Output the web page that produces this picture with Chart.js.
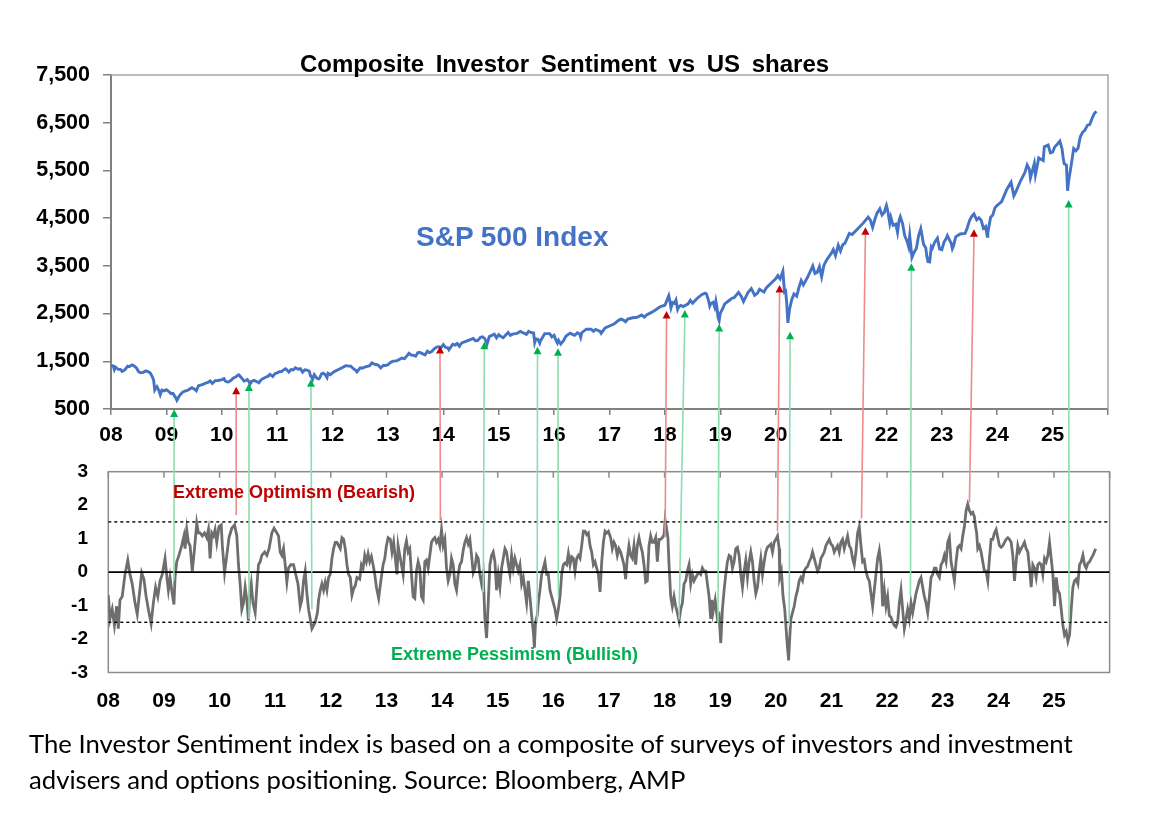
<!DOCTYPE html>
<html><head><meta charset="utf-8">
<script src="https://cdn.jsdelivr.net/npm/chart.js@4.4.1/dist/chart.umd.min.js"></script>
<style>
html,body{margin:0;padding:0;background:#fff;}
#wrap{position:relative;width:1156px;height:820px;overflow:hidden;font-family:'Liberation Sans',Arial,sans-serif;}
canvas{position:absolute;left:0;}
.t{position:absolute;white-space:nowrap;font-weight:bold;line-height:1;}
.cap{position:absolute;white-space:nowrap;font-family:Lato,'Open Sans',sans-serif;line-height:1;color:#000;left:29px;}
</style></head><body>
<div id="wrap">
<canvas id="topC" width="1156" height="460" style="top:0;width:1156px;height:460px"></canvas>
<canvas id="botC" width="1156" height="290" style="top:440px;width:1156px;height:290px"></canvas>
<canvas id="ovl" width="1156" height="820" style="top:0;width:1156px;height:820px"></canvas>
<div class="t" style="left:300px;top:52px;font-size:24px;word-spacing:5px;color:#000">Composite Investor Sentiment vs US shares</div>
<div class="t" style="left:416px;top:223px;font-size:28px;color:#4472C4">S&amp;P 500 Index</div>
<div class="t" style="left:173px;top:483px;font-size:18px;color:#C00000">Extreme Optimism (Bearish)</div>
<div class="t" style="left:391px;top:645px;font-size:18px;color:#00B050">Extreme Pessimism (Bullish)</div>
<div class="cap" id="cap1">The Investor Sentiment index is based on a composite of surveys of investors and investment</div>
<div class="cap" id="cap2">advisers and options positioning. Source: Bloomberg, AMP</div>
</div>
<script>
// ---------- axis ticks ----------
const yearTicks = [2008,2009,2010,2011,2012,2013,2014,2015,2016,2017,2018,2019,2020,2021,2022,2023,2024,2025,2026];
const yearLabels = ['08','09','10','11','12','13','14','15','16','17','18','19','20','21','22','23','24','25',''];
const spTicks = [500,1500,2500,3500,4500,5500,6500,7500];
const sentTicks = [-3,-2,-1,0,1,2,3];
const sentBands = [1.5,-1.5];

// ---------- S&P 500 (decimal year, index level) ----------
const spDates = [
2008.00,2008.04,2008.06,2008.08,2008.13,2008.17,2008.20,2008.25,2008.30,2008.33,2008.38,2008.42,2008.46,2008.50,2008.54,2008.58,2008.63,2008.67,2008.71,2008.75,2008.77,2008.79,2008.81,2008.83,2008.87,2008.89,2008.92,2008.96,
2009.00,2009.04,2009.06,2009.08,2009.12,2009.15,2009.17,2009.19,2009.23,2009.25,2009.29,2009.33,2009.38,2009.42,2009.46,2009.50,2009.54,2009.58,2009.63,2009.67,2009.71,2009.75,2009.79,2009.83,2009.88,2009.92,2009.96,
2010.00,2010.04,2010.06,2010.08,2010.12,2010.17,2010.21,2010.25,2010.29,2010.31,2010.33,2010.37,2010.40,2010.42,2010.46,2010.49,2010.51,2010.54,2010.58,2010.62,2010.65,2010.67,2010.71,2010.75,2010.79,2010.83,2010.87,2010.92,2010.96,
2011.00,2011.04,2011.08,2011.13,2011.15,2011.17,2011.21,2011.25,2011.29,2011.33,2011.38,2011.42,2011.46,2011.50,2011.54,2011.58,2011.60,2011.62,2011.64,2011.67,2011.71,2011.73,2011.75,2011.77,2011.80,2011.83,2011.87,2011.90,2011.92,2011.96,
2012.00,2012.04,2012.08,2012.17,2012.23,2012.25,2012.29,2012.33,2012.38,2012.42,2012.44,2012.50,2012.54,2012.58,2012.67,2012.71,2012.75,2012.79,2012.83,2012.87,2012.92,2012.96,
2013.00,2013.04,2013.08,2013.17,2013.25,2013.30,2013.33,2013.38,2013.42,2013.46,2013.50,2013.54,2013.58,2013.63,2013.67,2013.71,2013.75,2013.79,2013.83,2013.88,2013.92,2013.96,
2014.00,2014.04,2014.08,2014.10,2014.17,2014.21,2014.25,2014.29,2014.33,2014.42,2014.50,2014.54,2014.58,2014.62,2014.67,2014.71,2014.75,2014.79,2014.83,2014.92,2014.96,
2015.00,2015.04,2015.08,2015.17,2015.21,2015.25,2015.33,2015.39,2015.42,2015.50,2015.54,2015.58,2015.63,2015.65,2015.67,2015.71,2015.74,2015.75,2015.83,2015.92,2015.96,
2016.00,2016.04,2016.06,2016.08,2016.12,2016.17,2016.21,2016.25,2016.29,2016.33,2016.37,2016.42,2016.46,2016.48,2016.50,2016.58,2016.67,2016.71,2016.75,2016.83,2016.85,2016.92,
2017.00,2017.08,2017.17,2017.21,2017.25,2017.29,2017.33,2017.42,2017.50,2017.58,2017.63,2017.67,2017.75,2017.83,2017.92,
2018.00,2018.04,2018.07,2018.09,2018.11,2018.14,2018.17,2018.20,2018.23,2018.25,2018.29,2018.33,2018.42,2018.46,2018.50,2018.58,2018.67,2018.73,2018.75,2018.79,2018.81,2018.83,2018.87,2018.90,2018.92,2018.94,2018.96,2018.98,
2019.00,2019.04,2019.08,2019.17,2019.21,2019.25,2019.33,2019.38,2019.42,2019.50,2019.56,2019.58,2019.62,2019.67,2019.71,2019.75,2019.79,2019.83,2019.92,
2020.00,2020.04,2020.08,2020.13,2020.16,2020.18,2020.20,2020.22,2020.25,2020.29,2020.33,2020.38,2020.42,2020.46,2020.50,2020.58,2020.67,2020.71,2020.75,2020.79,2020.83,2020.87,2020.92,
2021.00,2021.04,2021.08,2021.13,2021.17,2021.21,2021.25,2021.33,2021.38,2021.42,2021.50,2021.58,2021.67,2021.71,2021.75,2021.79,2021.83,2021.88,2021.92,2021.96,
2022.00,2022.02,2022.06,2022.08,2022.12,2022.17,2022.20,2022.23,2022.25,2022.29,2022.33,2022.37,2022.40,2022.42,2022.46,2022.50,2022.54,2022.58,2022.62,2022.67,2022.71,2022.73,2022.75,2022.78,2022.81,2022.83,2022.87,2022.92,2022.96,
2023.00,2023.04,2023.08,2023.10,2023.17,2023.19,2023.21,2023.25,2023.33,2023.42,2023.46,2023.50,2023.54,2023.58,2023.63,2023.67,2023.71,2023.75,2023.79,2023.82,2023.83,2023.88,2023.92,2023.96,
2024.00,2024.08,2024.17,2024.25,2024.30,2024.33,2024.42,2024.50,2024.54,2024.58,2024.60,2024.67,2024.69,2024.75,2024.83,2024.85,2024.92,2024.96,
2025.00,2025.04,2025.08,2025.13,2025.17,2025.19,2025.21,2025.25,2025.27,2025.29,2025.33,2025.38,2025.42,2025.46,2025.50,2025.54,2025.58,2025.63,2025.67,2025.71,2025.75,2025.79
];
const spValues = [
1411,1401,1325,1378,1331,1331,1288,1322,1397,1386,1425,1400,1360,1280,1260,1267,1298,1283,1255,1166,1099,899,940,968,873,800,896,880,
903,870,850,826,827,770,735,683,768,798,850,873,888,919,946,919,880,987,1004,1021,1044,1057,1087,1036,1093,1096,1102,
1115,1136,1091,1074,1066,1104,1150,1169,1211,1217,1187,1135,1087,1089,1117,1076,1022,1078,1102,1079,1065,1049,1110,1141,1165,1183,1225,1181,1240,
1258,1283,1286,1329,1343,1327,1273,1326,1320,1364,1333,1345,1271,1321,1316,1292,1199,1178,1124,1219,1154,1136,1131,1155,1238,1253,1216,1159,1247,1219,
1258,1289,1312,1366,1404,1408,1398,1398,1340,1310,1278,1362,1356,1379,1407,1466,1441,1433,1412,1359,1416,1413,
1426,1472,1498,1515,1569,1555,1598,1667,1631,1626,1606,1680,1686,1655,1633,1710,1682,1703,1757,1798,1806,1787,
1848,1790,1783,1741,1859,1841,1872,1815,1884,1924,1960,1978,1931,1932,2003,2011,1972,1862,2018,2068,1990,
2059,2019,1995,2105,2044,2068,2086,2126,2107,2063,2126,2104,2092,1893,1972,1958,1882,1920,2079,2080,2012,
2044,1922,1880,1940,1864,1932,2022,2060,2091,2065,2046,2097,2071,2000,2099,2174,2171,2127,2168,2126,2085,2199,
2239,2279,2364,2383,2363,2328,2384,2412,2423,2470,2426,2472,2519,2575,2648,
2674,2786,2873,2762,2620,2732,2714,2786,2588,2641,2670,2648,2705,2780,2718,2816,2902,2930,2914,2767,2658,2712,2736,2633,2760,2633,2416,2351,
2507,2596,2704,2784,2822,2834,2946,2860,2752,2942,3025,2980,2883,2926,3007,2977,2952,3038,3141,
3231,3295,3226,3386,2954,2972,2711,2305,2585,2790,2912,2864,3044,3193,3100,3271,3500,3340,3363,3484,3270,3509,3622,
3756,3841,3714,3934,3811,3943,3973,4181,4155,4204,4298,4395,4523,4459,4308,4471,4605,4698,4567,4620,
4766,4677,4398,4516,4349,4374,4204,4463,4530,4392,4132,4023,3901,4132,3675,3785,3863,4130,4280,3955,3873,3694,3586,3583,3901,3872,3993,4080,3852,
3840,3999,4077,4136,3970,3861,3917,4109,4169,4180,4299,4450,4536,4589,4464,4508,4457,4288,4327,4117,4194,4514,4568,4719,
4770,4846,5096,5254,4967,5036,5278,5460,5615,5522,5344,5648,5408,5762,5705,5995,6032,5867,
5882,5997,6041,6115,5955,5770,5639,5612,5074,5282,5569,5958,5912,5967,6205,6297,6339,6449,6460,6584,6688,6740
];

// ---------- Composite sentiment (decimal year, z-score) ----------
const sentDates = [
2008.00,2008.03,2008.07,2008.11,2008.15,2008.18,2008.21,2008.25,2008.30,2008.35,2008.39,2008.43,2008.48,2008.52,2008.56,2008.60,2008.64,2008.68,2008.72,2008.77,2008.81,2008.85,2008.89,2008.93,2008.97,
2009.02,2009.06,2009.08,2009.11,2009.14,2009.18,2009.20,2009.23,2009.27,2009.32,2009.36,2009.38,2009.41,2009.44,2009.47,2009.51,2009.55,2009.59,2009.62,2009.65,2009.69,2009.73,2009.77,2009.80,2009.83,2009.86,2009.89,2009.92,2009.95,2009.99,
2010.03,2010.05,2010.09,2010.13,2010.17,2010.22,2010.27,2010.31,2010.34,2010.37,2010.40,2010.43,2010.46,2010.49,2010.52,2010.54,2010.57,2010.60,2010.64,2010.67,2010.70,2010.73,2010.76,2010.81,2010.85,2010.89,2010.94,2010.98,
2011.03,2011.06,2011.09,2011.12,2011.15,2011.18,2011.21,2011.24,2011.28,2011.33,2011.37,2011.41,2011.45,2011.48,2011.51,2011.54,2011.57,2011.60,2011.63,2011.66,2011.69,2011.72,2011.76,2011.78,2011.81,2011.84,2011.87,2011.90,2011.93,2011.96,2011.99,
2012.02,2012.05,2012.08,2012.11,2012.14,2012.17,2012.20,2012.23,2012.26,2012.29,2012.32,2012.35,2012.38,2012.41,2012.44,2012.47,2012.52,2012.55,2012.58,2012.61,2012.64,2012.67,2012.70,2012.73,2012.76,2012.79,2012.82,2012.86,2012.90,2012.94,2012.97,
2013.00,2013.03,2013.07,2013.10,2013.13,2013.16,2013.19,2013.21,2013.24,2013.27,2013.30,2013.33,2013.36,2013.39,2013.42,2013.45,2013.48,2013.51,2013.54,2013.57,2013.60,2013.63,2013.66,2013.69,2013.72,2013.75,2013.78,2013.81,2013.84,2013.87,2013.90,2013.93,2013.96,2013.99,
2014.02,2014.05,2014.08,2014.11,2014.14,2014.17,2014.20,2014.23,2014.26,2014.29,2014.32,2014.35,2014.38,2014.41,2014.44,2014.47,2014.50,2014.53,2014.56,2014.59,2014.62,2014.65,2014.68,2014.71,2014.74,2014.77,2014.80,2014.83,2014.86,2014.89,2014.92,2014.95,2014.98,
2015.01,2015.04,2015.07,2015.10,2015.13,2015.16,2015.19,2015.22,2015.25,2015.28,2015.31,2015.34,2015.37,2015.40,2015.43,2015.46,2015.49,2015.52,2015.55,2015.58,2015.61,2015.64,2015.66,2015.68,2015.71,2015.73,2015.76,2015.79,2015.82,2015.85,2015.88,2015.91,2015.94,2015.97,
2016.00,2016.03,2016.06,2016.09,2016.12,2016.15,2016.18,2016.21,2016.24,2016.27,2016.30,2016.33,2016.36,2016.39,2016.42,2016.45,2016.48,2016.51,2016.54,2016.57,2016.60,2016.63,2016.66,2016.69,2016.72,2016.75,2016.78,2016.81,2016.84,2016.87,2016.90,2016.93,2016.96,2016.99,
2017.03,2017.06,2017.09,2017.12,2017.15,2017.18,2017.21,2017.24,2017.27,2017.30,2017.33,2017.36,2017.39,2017.42,2017.45,2017.48,2017.51,2017.54,2017.57,2017.60,2017.63,2017.66,2017.69,2017.72,2017.75,2017.78,2017.81,2017.84,2017.87,2017.90,2017.93,2017.96,2017.99,
2018.01,2018.03,2018.06,2018.08,2018.11,2018.14,2018.17,2018.20,2018.23,2018.26,2018.29,2018.32,2018.35,2018.38,2018.41,2018.44,2018.47,2018.50,2018.53,2018.56,2018.59,2018.62,2018.65,2018.68,2018.71,2018.74,2018.77,2018.80,2018.83,2018.85,2018.87,2018.91,2018.95,2018.98,
2019.01,2019.04,2019.07,2019.10,2019.13,2019.16,2019.19,2019.22,2019.25,2019.28,2019.31,2019.34,2019.37,2019.40,2019.43,2019.46,2019.49,2019.52,2019.55,2019.58,2019.61,2019.64,2019.67,2019.70,2019.73,2019.76,2019.79,2019.82,2019.85,2019.88,2019.91,2019.94,2019.97,
2020.00,2020.03,2020.06,2020.07,2020.10,2020.13,2020.16,2020.18,2020.21,2020.23,2020.25,2020.27,2020.30,2020.33,2020.36,2020.39,2020.42,2020.45,2020.48,2020.51,2020.54,2020.57,2020.60,2020.63,2020.66,2020.69,2020.72,2020.75,2020.78,2020.81,2020.84,2020.87,2020.90,2020.93,2020.96,2020.99,
2021.02,2021.05,2021.08,2021.11,2021.14,2021.17,2021.20,2021.23,2021.26,2021.29,2021.32,2021.35,2021.38,2021.41,2021.44,2021.47,2021.50,2021.53,2021.56,2021.59,2021.62,2021.65,2021.68,2021.71,2021.74,2021.77,2021.80,2021.83,2021.86,2021.89,2021.92,2021.95,2021.98,
2022.01,2022.04,2022.07,2022.10,2022.13,2022.16,2022.19,2022.22,2022.25,2022.28,2022.31,2022.34,2022.37,2022.40,2022.43,2022.46,2022.49,2022.52,2022.55,2022.58,2022.61,2022.64,2022.67,2022.70,2022.73,2022.76,2022.79,2022.82,2022.85,2022.88,2022.91,2022.94,2022.97,
2023.00,2023.03,2023.06,2023.09,2023.12,2023.15,2023.18,2023.21,2023.24,2023.27,2023.30,2023.33,2023.36,2023.39,2023.42,2023.45,2023.48,2023.51,2023.54,2023.57,2023.59,2023.61,2023.63,2023.66,2023.69,2023.72,2023.75,2023.78,2023.81,2023.84,2023.87,2023.90,2023.93,2023.96,2023.99,
2024.02,2024.05,2024.08,2024.11,2024.14,2024.17,2024.20,2024.23,2024.26,2024.29,2024.32,2024.35,2024.38,2024.41,2024.44,2024.47,2024.50,2024.53,2024.56,2024.59,2024.62,2024.65,2024.68,2024.71,2024.74,2024.77,2024.80,2024.83,2024.86,2024.89,2024.92,2024.95,2024.98,
2025.01,2025.04,2025.07,2025.10,2025.13,2025.16,2025.19,2025.22,2025.25,2025.28,2025.31,2025.34,2025.37,2025.40,2025.43,2025.46,2025.49,2025.52,2025.55,2025.58,2025.61,2025.64,2025.67,2025.70,2025.75
];
const sentValues = [
-0.69,-1.40,-1.11,-1.59,-1.02,-1.69,-0.83,-0.73,-0.07,0.36,-0.07,-0.35,-0.92,-1.26,-0.64,-0.02,-0.21,-0.73,-1.11,-1.54,-0.92,-0.45,-0.73,-0.26,-0.07,
0.41,-0.26,-0.54,-0.16,-0.54,-0.97,-0.16,0.31,0.50,0.79,1.08,0.70,1.27,0.89,0.79,0.03,0.70,1.46,1.17,1.17,1.08,1.17,1.03,1.27,0.41,1.17,1.08,1.27,0.89,1.36,
1.41,0.79,-0.02,0.50,1.03,1.31,1.41,1.08,0.22,-0.35,-1.11,-0.92,-0.45,-0.83,-1.45,-0.73,-0.35,-0.92,-1.21,-0.45,0.22,0.31,0.50,0.60,0.50,0.70,1.17,1.31,
1.17,1.08,0.60,0.50,0.70,0.22,-0.30,0.12,0.22,0.22,-0.07,-0.35,-1.02,-0.83,-0.26,0.03,-0.64,-1.11,-1.40,-1.69,-1.59,-1.50,-1.21,-0.83,-0.54,-0.35,-0.54,-0.30,-0.54,-0.16,-0.07,
0.41,0.70,0.89,0.89,0.79,0.70,1.03,0.98,0.70,0.22,-0.07,-0.16,-0.69,-0.50,-0.40,-0.16,-0.21,0.22,0.12,0.50,0.31,0.55,0.31,0.46,0.22,-0.07,-0.45,-0.78,-0.26,0.22,0.41,
0.79,1.03,0.98,0.60,0.89,0.41,-0.07,0.79,0.50,0.22,-0.07,0.70,0.93,0.60,0.70,-0.07,-0.73,-0.78,0.03,0.31,0.12,-0.73,-0.83,0.31,0.36,0.12,0.50,0.89,0.98,1.03,0.89,0.98,0.79,1.27,
0.79,0.98,0.12,-0.26,-0.07,0.41,0.22,-0.35,-0.54,-0.07,0.22,0.31,0.65,0.89,1.03,0.84,0.98,0.50,-0.02,0.12,0.50,0.41,-0.07,-0.35,-0.07,-1.40,-1.97,-0.92,0.22,0.50,0.60,0.31,-0.54,
-0.07,-0.45,0.12,0.41,0.70,0.60,0.22,-0.07,0.50,0.12,0.41,0.22,0.03,0.22,-0.35,-0.16,-0.54,-0.92,-0.26,-0.73,-1.30,-1.78,-2.26,-1.50,-1.30,-0.92,-0.54,-0.07,0.12,0.31,-0.07,-0.07,-0.54,-0.73,
-0.92,-1.11,-1.40,-1.11,-0.73,-0.07,0.22,0.27,0.22,0.55,0.22,0.46,0.41,0.03,0.41,0.50,0.41,0.79,1.22,1.22,1.12,1.17,0.79,0.60,0.22,0.31,0.12,-0.07,-0.59,0.31,0.89,1.22,1.17,1.22,
1.03,0.70,0.89,0.79,0.50,0.70,0.60,0.41,0.22,-0.21,0.41,0.79,0.50,0.41,0.79,0.22,0.79,1.03,0.79,0.60,0.22,-0.30,-0.26,0.79,1.08,0.89,0.89,1.03,0.31,0.98,0.98,1.03,1.12,
1.55,1.36,1.03,0.22,-0.73,-1.02,-0.73,-1.02,-1.21,-1.45,-1.11,-0.92,-0.35,-0.26,0.03,0.22,-0.35,-0.07,-0.26,-0.16,-0.07,-0.02,-0.07,0.12,0.03,0.03,-0.35,-0.73,-1.40,-0.83,-1.21,-0.83,-1.40,-1.30,
-2.12,-1.11,-0.54,-0.07,0.31,0.50,0.46,0.12,0.31,0.70,0.74,0.50,-0.07,-0.45,0.03,0.36,-0.16,0.31,0.60,0.31,-0.26,-0.64,-0.45,0.03,0.41,-0.07,0.31,0.60,0.74,0.79,0.84,0.60,0.89,
0.98,1.08,0.70,-0.16,0.03,-0.73,-1.11,-1.59,-2.26,-2.64,-1.97,-1.40,-1.21,-1.02,-0.73,-0.54,-0.26,-0.16,-0.26,0.03,0.12,0.17,0.31,0.41,0.60,0.41,0.22,0.03,0.12,0.41,0.50,0.60,0.79,0.89,0.98,0.84,
0.79,0.60,0.70,0.79,0.60,0.89,0.98,0.70,0.89,1.08,0.79,0.70,0.41,0.22,0.60,1.17,1.36,0.79,0.31,0.36,0.03,-0.16,-0.26,-0.64,-1.02,-0.54,-0.07,0.41,0.65,0.22,-1.02,-0.54,-1.02,
-0.73,-1.30,-1.35,-1.50,-1.59,-1.64,-1.50,-0.92,-0.54,-1.11,-1.69,-1.40,-1.11,-1.40,-0.92,-1.21,-0.92,-0.64,-0.45,-0.26,-0.16,-0.45,-0.73,-0.92,-1.21,-0.73,-0.16,-0.07,0.12,0.12,-0.07,-0.16,0.22,
0.31,0.50,0.31,0.89,1.03,0.31,0.03,-0.26,0.31,0.74,0.79,0.70,1.08,1.36,1.84,2.03,1.84,1.74,1.79,1.65,1.36,1.17,0.70,0.79,0.60,0.31,0.03,0.03,-0.26,0.41,0.98,0.98,1.17,1.27,1.03,
0.79,0.74,0.79,0.89,0.98,1.03,0.98,0.89,0.50,-0.26,0.31,0.79,0.60,0.70,0.79,0.89,0.70,0.60,0.12,-0.45,0.22,0.12,-0.16,0.22,0.27,0.22,-0.07,0.41,0.31,0.50,0.89,0.41,-0.07,
-1.02,-0.16,-0.54,-0.64,-1.11,-1.59,-1.88,-1.78,-2.07,-1.88,-1.11,-0.45,-0.26,-0.21,-0.35,0.22,0.31,0.50,0.22,0.12,0.27,0.31,0.41,0.50,0.70
];

// ---------- arrows: sentiment extreme (bottom) -> S&P level (top) ----------
const arrowType = ['g','r','g','g','r','g','g','g','r','g','g','r','g','r','g','r','g'];
const arrowTopDate = [2009.14,2010.26,2010.49,2011.61,2013.94,2014.74,2015.70,2016.07,2018.03,2018.36,2018.98,2020.07,2020.26,2021.62,2022.45,2023.58,2025.29];
const arrowTopValue = [490,967,1037,1122,1820,1911,1806,1772,2554,2575,2282,3099,2120,4308,3554,4266,4881];
const arrowBottomDate = [2009.18,2010.30,2010.53,2011.66,2013.97,2014.74,2015.71,2016.09,2018.01,2018.26,2018.96,2020.03,2020.24,2021.54,2022.42,2023.48,2025.27];
const arrowBottomValue = [-0.25,1.70,-1.40,-1.11,1.55,-0.60,-1.50,-0.73,1.03,-1.40,-1.50,1.22,-1.60,1.60,-0.69,2.08,-1.50];

// ---------- build ----------
Chart.defaults.font.family = "'Liberation Sans', Arial, sans-serif";
const toXY = (xs, ys) => xs.map((x, i) => ({x: x, y: ys[i]}));
const setTicks = arr => (s => { s.ticks = arr.map(v => ({value: v})); });

const topBox = {
  id: 'topBox',
  afterDraw(chart) {
    const {ctx, chartArea: a} = chart;
    ctx.save();
    ctx.strokeStyle = '#A6A6A6'; ctx.lineWidth = 1.5;
    ctx.beginPath(); ctx.moveTo(a.left, a.top); ctx.lineTo(a.right, a.top); ctx.lineTo(a.right, a.bottom); ctx.stroke();
    ctx.restore();
  }
};
const botBox = {
  id: 'botBox',
  beforeDatasetsDraw(chart) {
    const {ctx, chartArea: a, scales: {x}} = chart;
    ctx.save();
    ctx.strokeStyle = '#8C8C8C'; ctx.lineWidth = 1.5;
    ctx.strokeRect(a.left, a.top, a.right - a.left, a.bottom - a.top);
    ctx.beginPath();
    yearTicks.forEach(v => { const px = x.getPixelForValue(v); ctx.moveTo(px, a.top); ctx.lineTo(px, a.top + 6); });
    ctx.stroke();
    ctx.restore();
  }
};

const tickFontX = {size: 21, weight: 'bold'};

const topChart = new Chart(document.getElementById('topC'), {
  type: 'line',
  data: {datasets: [{data: toXY(spDates, spValues), borderColor: '#4472C4', borderWidth: 2.9, pointRadius: 0, tension: 0}]},
  options: {
    responsive: false, animation: false, events: [],
    layout: {padding: {left: 0, top: 75, right: 48, bottom: 0}},
    plugins: {legend: {display: false}, tooltip: {enabled: false}},
    scales: {
      x: {type: 'linear', min: 2008, max: 2026, afterBuildTicks: setTicks(yearTicks),
          ticks: {autoSkip: false, maxRotation: 0, padding: 8, color: '#000', font: tickFontX, callback: (v, i) => yearLabels[i]},
          grid: {display: true, drawOnChartArea: false, drawTicks: true, tickLength: 6, color: '#808080', lineWidth: 1.5},
          border: {display: true, color: '#808080', width: 2},
          afterFit: s => { s.height = 51; }},
      y: {type: 'linear', min: 500, max: 7500, afterBuildTicks: setTicks(spTicks),
          ticks: {padding: 13, color: '#000', font: {size: 21.5, weight: 'bold'}, callback: v => v.toLocaleString('en-US')},
          grid: {display: true, drawOnChartArea: false, drawTicks: true, tickLength: 8, color: '#808080', lineWidth: 1.5},
          border: {display: true, color: '#808080', width: 2},
          afterFit: s => { s.width = 111; }}
    }
  },
  plugins: [topBox]
});

const bandLine = v => ({data: [{x: 2008, y: v}, {x: 2026, y: v}], borderColor: '#000', borderWidth: 1.4, borderDash: [3, 3], pointRadius: 0});
const botChart = new Chart(document.getElementById('botC'), {
  type: 'line',
  data: {datasets: [
    {data: [{x: 2008, y: 0}, {x: 2026, y: 0}], borderColor: '#000', borderWidth: 1.6, pointRadius: 0},
    bandLine(sentBands[0]), bandLine(sentBands[1]),
    {data: toXY(sentDates, sentValues), borderColor: '#6E6E6E', borderWidth: 2.8, pointRadius: 0, tension: 0}
  ]},
  options: {
    responsive: false, animation: false, events: [],
    layout: {padding: {left: 0, top: 22.7, right: 46.4, bottom: 0}},
    plugins: {legend: {display: false}, tooltip: {enabled: false}},
    scales: {
      x: {type: 'linear', min: 2008, max: 2026, afterBuildTicks: setTicks(yearTicks),
          ticks: {autoSkip: false, maxRotation: 0, padding: 16, color: '#000', font: tickFontX, callback: (v, i) => yearLabels[i]},
          grid: {display: false, drawTicks: false, tickLength: 0}, border: {display: false},
          afterFit: s => { s.height = 57.5; }},
      y: {type: 'linear', min: -3, max: 3, afterBuildTicks: setTicks(sentTicks),
          ticks: {padding: 20.3, color: '#000', font: {size: 19, weight: 'bold'}},
          grid: {display: false, drawTicks: false, tickLength: 0}, border: {display: false},
          afterFit: s => { s.width = 108.3; }}
    }
  },
  plugins: [botBox]
});

function drawArrows() {
  const c = document.getElementById('ovl');
  const ctx = c.getContext('2d');
  ctx.clearRect(0, 0, c.width, c.height);
  const tx = topChart.scales.x, ty = topChart.scales.y, bx = botChart.scales.x, by = botChart.scales.y;
  const botOff = document.getElementById('botC').offsetTop;
  const head = 7.5, half = 4;
  arrowType.forEach((t, i) => {
    const x1 = bx.getPixelForValue(arrowBottomDate[i]);
    const y1 = by.getPixelForValue(arrowBottomValue[i]) + botOff;
    const x2 = tx.getPixelForValue(arrowTopDate[i]);
    const y2 = ty.getPixelForValue(arrowTopValue[i]);
    ctx.strokeStyle = t === 'r' ? '#EE8C8C' : '#8EDDB0';
    ctx.lineWidth = 1.6;
    ctx.beginPath(); ctx.moveTo(x1, y1); ctx.lineTo(x2, y2 + head); ctx.stroke();
    ctx.fillStyle = t === 'r' ? '#C00000' : '#00B050';
    ctx.beginPath(); ctx.moveTo(x2, y2); ctx.lineTo(x2 - half, y2 + head); ctx.lineTo(x2 + half, y2 + head); ctx.closePath(); ctx.fill();
  });
}
drawArrows();

// caption sizing: fit first line to its width in the reference
(function () {
  const c1 = document.getElementById('cap1'), c2 = document.getElementById('cap2');
  const m = document.createElement('canvas').getContext('2d');
  m.font = "100px Lato, 'Open Sans', sans-serif";
  const fs = 100 * 1046 / m.measureText(c1.textContent).width;
  [c1, c2].forEach(el => { el.style.fontSize = fs + 'px'; });
  c1.style.top = (753.5 - 0.887 * fs) + 'px';
  c2.style.top = (790 - 0.887 * fs) + 'px';
})();
</script>
</body></html>
